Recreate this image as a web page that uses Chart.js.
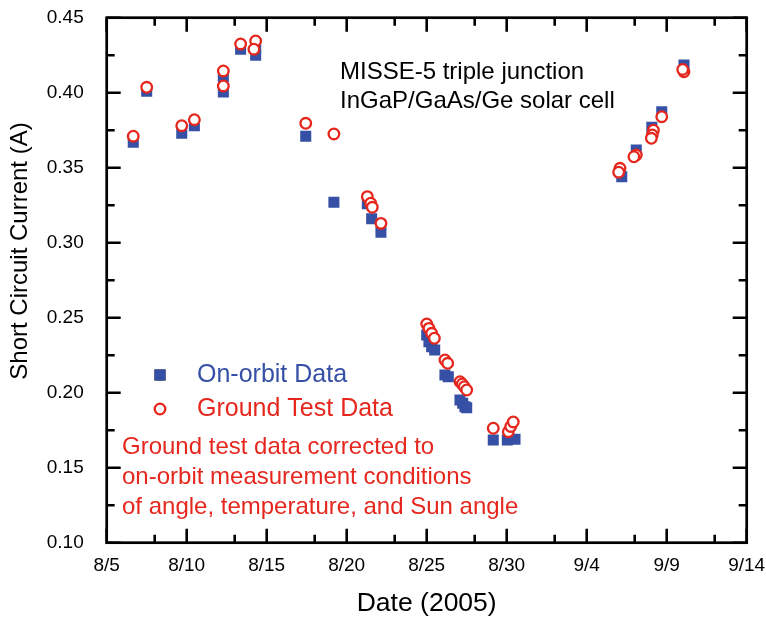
<!DOCTYPE html>
<html>
<head>
<meta charset="utf-8">
<script src="https://cdn.jsdelivr.net/npm/chart.js@4.4.0/dist/chart.umd.min.js"></script>
<style>
  html, body { margin: 0; padding: 0; background: #fff; }
  #wrap { width: 766px; height: 622px; }
</style>
</head>
<body>
<div id="wrap"><canvas id="chart" width="766" height="622"></canvas></div>
<script>
// x values are "day of August" (9/4 = 35, 9/14 = 45)
var onOrbitDate = [6.66, 7.5, 9.69, 10.48, 12.29, 12.29, 13.37, 14.31, 14.31, 17.44, 19.2,
    21.29, 21.56, 22.14, 25.0, 25.14, 25.31, 25.5, 26.14, 26.35, 27.08, 27.25, 27.39, 27.5,
    29.16, 30.04, 30.52, 37.19, 37.1, 38.1, 39.07, 39.69, 41.08];
var onOrbitCurrent = [0.367, 0.401, 0.373, 0.378, 0.4105, 0.4005, 0.429, 0.430, 0.425, 0.371, 0.327,
    0.326, 0.316, 0.307, 0.2385, 0.234, 0.2307, 0.2285, 0.2118, 0.2107, 0.1951, 0.1929, 0.1907, 0.19,
    0.1685, 0.1685, 0.169, 0.344, 0.347, 0.3618, 0.377, 0.3873, 0.4185];

var groundDate = [6.66, 7.5, 9.69, 10.48, 12.29, 12.29, 13.37, 14.31, 14.2, 17.44, 19.2,
    21.29, 21.5, 21.6, 22.14, 25.0, 25.14, 25.31, 25.48, 26.14, 26.31, 27.08, 27.22, 27.35, 27.5,
    29.16, 30.1, 30.25, 30.41, 37.08, 37.0, 38.1, 37.95, 39.17, 39.1, 39.04, 39.69, 41.08, 41.0];
var groundCurrent = [0.371, 0.4036, 0.378, 0.382, 0.4145, 0.4045, 0.4325, 0.4345, 0.429, 0.3796, 0.3725,
    0.3307, 0.3263, 0.3236, 0.3129, 0.2458, 0.2429, 0.2396, 0.2363, 0.2218, 0.2196, 0.2073, 0.2058, 0.204, 0.2018,
    0.1763, 0.174, 0.1775, 0.1805, 0.3496, 0.347, 0.3585, 0.3573, 0.375, 0.3718, 0.3696, 0.384, 0.414, 0.4155];

var xMajorTicks = [5, 10, 15, 20, 25, 30, 35, 40, 45];
var xTickLabels = ['8/5', '8/10', '8/15', '8/20', '8/25', '8/30', '9/4', '9/9', '9/14'];
var xMinorTicks = [8, 13, 18, 23, 28, 33, 38, 43];
var yMajorTicks = [0.10, 0.15, 0.20, 0.25, 0.30, 0.35, 0.40, 0.45];
var yMinorTicks = [0.125, 0.175, 0.225, 0.275, 0.325, 0.375, 0.425];

var BLUE = '#3550a4';
var RED = '#e5271e';
var FONT = "'Liberation Sans', Arial, Helvetica, sans-serif";

function toPoints(xs, ys) {
    return xs.map(function (x, i) { return { x: x, y: ys[i] }; });
}

// frame with inward ticks on all four sides
const framePlugin = {
    id: 'frame',
    afterDraw(chart) {
        const ctx = chart.ctx;
        const a = chart.chartArea;
        const sx = chart.scales.x, sy = chart.scales.y;
        ctx.save();
        ctx.strokeStyle = '#000';
        ctx.lineWidth = 2.7;
        ctx.strokeRect(a.left, a.top, a.right - a.left, a.bottom - a.top);
        ctx.lineWidth = 2.6;
        ctx.beginPath();
        function xt(v, len) {
            const p = sx.getPixelForValue(v);
            ctx.moveTo(p, a.bottom); ctx.lineTo(p, a.bottom - len);
            ctx.moveTo(p, a.top); ctx.lineTo(p, a.top + len);
        }
        function yt(v, len) {
            const p = sy.getPixelForValue(v);
            ctx.moveTo(a.left, p); ctx.lineTo(a.left + len, p);
            ctx.moveTo(a.right, p); ctx.lineTo(a.right - len, p);
        }
        xMajorTicks.forEach(function (v) { xt(v, 14); });
        xMinorTicks.forEach(function (v) { xt(v, 8); });
        yMajorTicks.forEach(function (v) { yt(v, 14); });
        yMinorTicks.forEach(function (v) { yt(v, 8); });
        ctx.stroke();
        ctx.restore();
    }
};

// legend, notes and y axis title
const textPlugin = {
    id: 'texts',
    afterDraw(chart) {
        const ctx = chart.ctx;
        ctx.save();
        ctx.textBaseline = 'middle';
        ctx.textAlign = 'left';

        ctx.font = '24px ' + FONT;
        ctx.fillStyle = '#000';
        ctx.fillText('MISSE-5 triple junction', 340, 72);
        ctx.fillText('InGaP/GaAs/Ge solar cell', 340, 101);

        ctx.font = '25px ' + FONT;
        Chart.helpers.drawPoint(ctx, { pointStyle: 'rect', radius: 7.8, borderWidth: 0 }, 160, 375);
        ctx.fillStyle = BLUE;
        ctx.fill();
        ctx.fillText('On-orbit Data', 197, 375);

        ctx.strokeStyle = RED;
        ctx.fillStyle = '#fff';
        ctx.lineWidth = 2.3;
        Chart.helpers.drawPoint(ctx, { pointStyle: 'circle', radius: 5.3, borderWidth: 2.3 }, 160, 409);
        ctx.fillStyle = RED;
        ctx.fillText('Ground Test Data', 197, 409);

        ctx.font = '24px ' + FONT;
        ctx.fillText('Ground test data corrected to', 122, 447);
        ctx.fillText('on-orbit measurement conditions', 122, 477);
        ctx.fillText('of angle, temperature, and Sun angle', 122, 507);

        ctx.fillStyle = '#000';
        ctx.translate(20, 251);
        ctx.rotate(-Math.PI / 2);
        ctx.textAlign = 'center';
        ctx.fillText('Short Circuit Current (A)', 0, 0);
        ctx.restore();
    }
};

const ctx = document.getElementById('chart').getContext('2d');
const chart = new Chart(ctx, {
    type: 'scatter',
    data: {
        datasets: [{
            label: 'Ground Test Data',
            data: toPoints(groundDate, groundCurrent),
            pointStyle: 'circle',
            pointRadius: 5.3,
            pointBorderWidth: 2.3,
            borderColor: RED,
            backgroundColor: '#fff',
            order: 0
        }, {
            label: 'On-orbit Data',
            data: toPoints(onOrbitDate, onOrbitCurrent),
            pointStyle: 'rect',
            pointRadius: 7.8,
            pointBorderWidth: 0,
            borderColor: BLUE,
            backgroundColor: BLUE,
            order: 1
        }]
    },
    options: {
        responsive: false,
        animation: false,
        devicePixelRatio: 1,
        layout: { padding: { left: 0, right: 19.3, top: 17.7, bottom: 0 } },
        plugins: {
            legend: { display: false },
            tooltip: { enabled: false }
        },
        scales: {
            x: {
                type: 'linear',
                min: 5,
                max: 45,
                afterFit: function (s) { s.height = 79.3; s.paddingLeft = 0; s.paddingRight = 0; },
                afterBuildTicks: function (s) {
                    s.ticks = xMajorTicks.map(function (v) { return { value: v }; });
                },
                grid: { display: false, drawTicks: false },
                border: { display: false },
                ticks: {
                    padding: 12,
                    color: '#000',
                    font: { family: FONT, size: 19 },
                    maxRotation: 0,
                    callback: function (v) {
                        var i = xMajorTicks.indexOf(v);
                        return i >= 0 ? xTickLabels[i] : '';
                    }
                },
                title: {
                    display: true,
                    text: 'Date (2005)',
                    color: '#000',
                    font: { family: FONT, size: 26.5 },
                    padding: { top: 0, bottom: 2 }
                }
            },
            y: {
                type: 'linear',
                min: 0.10,
                max: 0.45,
                afterFit: function (s) { s.width = 106.7; s.paddingTop = 0; s.paddingBottom = 0; },
                afterBuildTicks: function (s) {
                    s.ticks = yMajorTicks.map(function (v) { return { value: v }; });
                },
                grid: { display: false, drawTicks: false },
                border: { display: false },
                ticks: {
                    padding: 23,
                    color: '#000',
                    font: { family: FONT, size: 19 },
                    callback: function (v) { return v.toFixed(2); }
                }
            }
        }
    },
    plugins: [framePlugin, textPlugin]
});
</script>
</body>
</html>
